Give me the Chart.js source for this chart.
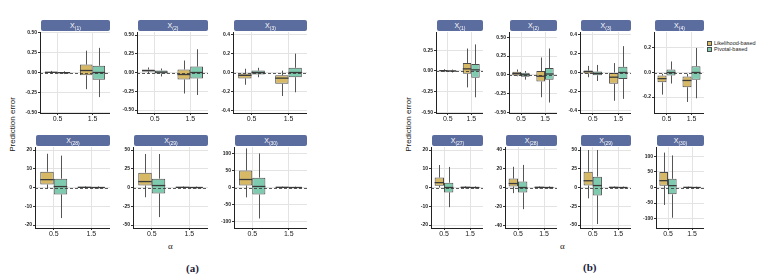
<!doctype html>
<html lang="en">
<head>
<meta charset="utf-8">
<title>Prediction error</title>
<script src="https://cdn.jsdelivr.net/npm/chart.js@4.4.1/dist/chart.umd.min.js"></script>
<style>
    body { margin: 0; width: 769px; height: 280px; background: #fff; position: relative; overflow: hidden; font-family: "Liberation Sans", Arial, sans-serif; }
    .facet { position: absolute; }
    .strip { position: absolute; height: 11px; background: #5b6c9e; color: #fff; border-radius: 2px; font-size: 7px; line-height: 11px; text-align: center; }
    .strip .sub { font-size: 5px; position: relative; top: 2px; }
    .ytitle { position: absolute; font-size: 8px; color: #222; transform: rotate(-90deg); white-space: nowrap; }
    .xtitle { position: absolute; font-family: "Liberation Serif", serif; font-size: 9px; color: #222; }
    .tag { position: absolute; font-family: "Liberation Serif", serif; font-weight: bold; font-size: 11px; color: #1b1b3a; }
    .legend { position: absolute; left: 707px; top: 40px; font-size: 5.5px; color: #222; line-height: 6px; }
    .legend span.key { display: inline-block; width: 3px; height: 3px; border: 1px solid #4d4d4d; margin-right: 2px; vertical-align: -1px; }
</style>
</head>
<body>

<div class="ytitle" style="left:-15px; top:120px;">Prediction error</div>
<div class="ytitle" style="left:381px; top:120px;">Prediction error</div>
<div class="xtitle" style="left:168px; top:241px;">α</div>
<div class="xtitle" style="left:560px; top:241px;">α</div>
<div class="tag" style="left:186px; top:262px;">(a)</div>
<div class="tag" style="left:583px; top:261px;">(b)</div>
<div class="legend">
    <div><span class="key" style="background:#d6b865"></span>Likelihood-based</div>
    <div><span class="key" style="background:#7fcbb0"></span>Pivotal-based</div>
</div>

<script type="text/javascript">
    var alphas = ["0.5", "1.5"];
    var seriesNames = ["Likelihood-based", "Pivotal-based"];

    // one row per alpha: [lower whisker, Q1, median, Q3, upper whisker]
    var a1_lik = [[-0.015, -0.005, 0.002, 0.008, 0.02], [-0.21, -0.035, 0.025, 0.1, 0.275]];
    var a1_piv = [[-0.02, -0.008, -0.002, 0.005, 0.015], [-0.31, -0.09, 0.0, 0.085, 0.31]];
    var a2_lik = [[-0.013, 0.013, 0.025, 0.04, 0.067], [-0.28, -0.093, -0.027, 0.04, 0.16]];
    var a2_piv = [[-0.053, -0.013, 0.005, 0.027, 0.053], [-0.3, -0.08, 0.0, 0.08, 0.31]];
    var a3_lik = [[-0.13, -0.063, -0.03, -0.01, 0.04], [-0.25, -0.12, -0.06, -0.03, 0.02]];
    var a3_piv = [[-0.05, -0.02, 0.0, 0.02, 0.05], [-0.21, -0.05, 0.0, 0.05, 0.2]];
    var a28_lik = [[-0.5, 1.6, 4.2, 8.4, 18], [-0.5, -0.2, 0.1, 0.4, 0.7]];
    var a28_piv = [[-16.3, -3.7, 0.5, 4.7, 17], [-0.6, -0.3, 0, 0.3, 0.6]];
    var a29_lik = [[-13, 2.6, 7.9, 19.7, 44.7], [-1, -0.5, 0.2, 0.9, 1.5]];
    var a29_piv = [[-39.5, -7.9, 2.6, 11.8, 44.7], [-1.2, -0.6, 0, 0.6, 1.2]];
    var a30_lik = [[-29, 5.9, 23.5, 50, 115], [-2, -1, 0.5, 2, 3]];
    var a30_piv = [[-91, -20.6, 3, 29, 100], [-2.5, -1.5, 0, 1.5, 2.5]];

    var b1_lik = [[-0.015, -0.005, 0.002, 0.008, 0.02], [-0.2, -0.036, 0.024, 0.095, 0.27]];
    var b1_piv = [[-0.02, -0.008, -0.002, 0.005, 0.015], [-0.32, -0.083, 0.012, 0.083, 0.32]];
    var b2_lik = [[-0.02, -0.01, 0.015, 0.04, 0.07], [-0.3, -0.09, -0.02, 0.05, 0.23]];
    var b2_piv = [[-0.065, -0.026, 0, 0.026, 0.05], [-0.37, -0.065, 0.01, 0.09, 0.35]];
    var b3_lik = [[-0.05, -0.01, 0.01, 0.02, 0.07], [-0.3, -0.12, -0.05, 0.0, 0.1]];
    var b3_piv = [[-0.09, -0.03, -0.01, 0.01, 0.08], [-0.28, -0.07, 0, 0.06, 0.28]];
    var b4_lik = [[-0.18, -0.08, -0.05, -0.024, -0.01], [-0.24, -0.12, -0.065, -0.033, -0.01]];
    var b4_piv = [[-0.09, -0.024, 0, 0.024, 0.09], [-0.21, -0.06, 0, 0.05, 0.2]];
    var b27_lik = [[0, 1.0, 2.6, 5.3, 12], [-0.5, -0.2, 0.1, 0.4, 0.7]];
    var b27_piv = [[-10.5, -2.6, 0, 2.6, 11], [-0.6, -0.3, 0, 0.3, 0.6]];
    var b28_lik = [[-6, 1, 4.2, 9.5, 22], [-1, -0.4, 0.2, 0.8, 1.3]];
    var b28_piv = [[-23, -5.3, 0, 6.3, 24], [-1.2, -0.6, 0, 0.6, 1.2]];
    var b29_lik = [[-14.5, 2.6, 9, 21, 50], [-1, -0.5, 0.2, 0.9, 1.5]];
    var b29_piv = [[-48.7, -10.5, 2.6, 14.5, 50], [-1.2, -0.6, 0, 0.6, 1.2]];
    var b30_lik = [[-56, 6, 22, 50, 112], [-2, -1, 0.5, 2, 3]];
    var b30_piv = [[-97, -22, 6, 28, 103], [-2.5, -1.5, 0, 1.5, 2.5]];

    // y tick labels and y limits of each facet
    var ticks050 = [-0.5, -0.25, 0, 0.25, 0.5];
    var ticks04 = [-0.4, -0.2, 0, 0.2, 0.4];
    var ticks020 = [-0.5, -0.25, 0, 0.25];
    var ticks02 = [-0.2, 0, 0.2];
    var ticks20 = [-20, -10, 0, 10, 20];
    var ticks40 = [-40, -20, 0, 20, 40];
    var ticks50 = [-50, -25, 0, 25, 50];
    var ticks100 = [-100, -50, 0, 50, 100];

    var gold = "#d6b865";
    var teal = "#7fcbb0";
    var YW = 26, XH = 14, PADT = 4;
    var rowTop = [32, 147], rowBottom = [113, 228];

    var facets = [
        { sub: "(1)", lik: a1_lik, piv: a1_piv, ticks: ticks050, lim: [-0.51, 0.51], dec: 2, axis: 40, right: 110, row: 0 },
        { sub: "(2)", lik: a2_lik, piv: a2_piv, ticks: ticks050, lim: [-0.54, 0.54], dec: 2, axis: 137, right: 208, row: 0 },
        { sub: "(3)", lik: a3_lik, piv: a3_piv, ticks: ticks04, lim: [-0.43, 0.43], dec: 1, axis: 233, right: 307, row: 0 },
        { sub: "(28)", lik: a28_lik, piv: a28_piv, ticks: ticks20, lim: [-21.6, 21.6], dec: 0, axis: 35, right: 110, row: 1 },
        { sub: "(29)", lik: a29_lik, piv: a29_piv, ticks: ticks50, lim: [-54, 54], dec: 0, axis: 133, right: 208, row: 1 },
        { sub: "(30)", lik: a30_lik, piv: a30_piv, ticks: ticks100, lim: [-119, 119], dec: 0, axis: 234, right: 307, row: 1 },
        { sub: "(1)", lik: b1_lik, piv: b1_piv, ticks: ticks020, lim: [-0.51, 0.47], dec: 2, axis: 436, right: 483, row: 0 },
        { sub: "(2)", lik: b2_lik, piv: b2_piv, ticks: ticks050, lim: [-0.51, 0.57], dec: 2, axis: 509, right: 557, row: 0 },
        { sub: "(3)", lik: b3_lik, piv: b3_piv, ticks: ticks04, lim: [-0.43, 0.43], dec: 1, axis: 580, right: 631, row: 0 },
        { sub: "(4)", lik: b4_lik, piv: b4_piv, ticks: ticks02, lim: [-0.33, 0.33], dec: 1, axis: 654, right: 704, row: 0 },
        { sub: "(27)", lik: b27_lik, piv: b27_piv, ticks: ticks20, lim: [-21.6, 21.6], dec: 0, axis: 431, right: 483, row: 1 },
        { sub: "(28)", lik: b28_lik, piv: b28_piv, ticks: ticks40, lim: [-43, 43], dec: 0, axis: 505, right: 557, row: 1 },
        { sub: "(29)", lik: b29_lik, piv: b29_piv, ticks: ticks50, lim: [-54, 54], dec: 0, axis: 580, right: 631, row: 1 },
        { sub: "(30)", lik: b30_lik, piv: b30_piv, ticks: ticks100, lim: [-130, 130], dec: 0, axis: 656, right: 704, row: 1 }
    ];

    // whiskers behind the boxes, medians and the dashed zero line on top
    var boxPlugin = {
        id: "boxes",
        beforeDatasetsDraw: function(chart) {
            var ctx = chart.ctx, y = chart.scales.y;
            ctx.save();
            ctx.strokeStyle = "#555";
            ctx.lineWidth = 1;
            chart.data.datasets.forEach(function(ds, i) {
                chart.getDatasetMeta(i).data.forEach(function(bar, j) {
                    var s = ds.stats[j];
                    var x = Math.round(bar.x) + 0.5;
                    ctx.beginPath();
                    ctx.moveTo(x, y.getPixelForValue(s[4]));
                    ctx.lineTo(x, y.getPixelForValue(s[3]));
                    ctx.moveTo(x, y.getPixelForValue(s[1]));
                    ctx.lineTo(x, y.getPixelForValue(s[0]));
                    ctx.stroke();
                });
            });
            ctx.restore();
        },
        afterDatasetsDraw: function(chart) {
            var ctx = chart.ctx, y = chart.scales.y, area = chart.chartArea;
            ctx.save();
            ctx.strokeStyle = "#3a3a3a";
            ctx.lineWidth = 1.3;
            chart.data.datasets.forEach(function(ds, i) {
                chart.getDatasetMeta(i).data.forEach(function(bar, j) {
                    var py = y.getPixelForValue(ds.stats[j][2]);
                    ctx.beginPath();
                    ctx.moveTo(bar.x - bar.width / 2, py);
                    ctx.lineTo(bar.x + bar.width / 2, py);
                    ctx.stroke();
                });
            });
            var zy = Math.round(y.getPixelForValue(0)) + 0.5;
            ctx.strokeStyle = "#333";
            ctx.lineWidth = 0.8;
            ctx.setLineDash([3, 2]);
            ctx.beginPath();
            ctx.moveTo(area.left, zy);
            ctx.lineTo(area.right, zy);
            ctx.stroke();
            ctx.restore();
        }
    };

    function makeFacet(f) {
        var top = rowTop[f.row], bottom = rowBottom[f.row];
        var w = YW + f.right - f.axis;
        var h = PADT + bottom - top + XH;

        var div = document.createElement("div");
        div.className = "facet";
        div.style.left = (f.axis - YW) + "px";
        div.style.top = (top - PADT) + "px";
        var canvas = document.createElement("canvas");
        canvas.width = w;
        canvas.height = h;
        canvas.style.width = w + "px";
        canvas.style.height = h + "px";
        div.appendChild(canvas);
        document.body.appendChild(div);

        var strip = document.createElement("div");
        strip.className = "strip";
        strip.style.left = (f.axis + 1) + "px";
        strip.style.width = (f.right - f.axis - 1) + "px";
        strip.style.top = (top - 12) + "px";
        strip.innerHTML = "X<span class='sub'>" + f.sub + "</span>";
        document.body.appendChild(strip);

        new Chart(canvas.getContext("2d"), {
            type: "bar",
            data: {
                labels: alphas,
                datasets: [{
                    label: seriesNames[0],
                    data: f.lik.map(function(s) { return [s[1], s[3]]; }),
                    stats: f.lik,
                    backgroundColor: gold
                }, {
                    label: seriesNames[1],
                    data: f.piv.map(function(s) { return [s[1], s[3]]; }),
                    stats: f.piv,
                    backgroundColor: teal
                }]
            },
            options: {
                responsive: false,
                animation: false,
                devicePixelRatio: 1,
                events: [],
                layout: { padding: { top: PADT, left: 0, right: 0, bottom: 0 } },
                datasets: { bar: { categoryPercentage: 0.72, barPercentage: 1, borderColor: "#4d4d4d", borderWidth: 1, borderSkipped: false } },
                plugins: { legend: { display: false }, tooltip: { enabled: false } },
                scales: {
                    x: {
                        grid: { offset: false, color: "#e3e3e3", tickLength: 2, tickColor: "#333" },
                        border: { color: "#222", width: 1 },
                        ticks: { color: "#222", font: { size: 7, family: "Liberation Sans" }, padding: 0, maxRotation: 0 },
                        afterFit: function(s) { s.height = XH; }
                    },
                    y: {
                        min: f.lim[0],
                        max: f.lim[1],
                        grid: { color: "#e3e3e3", tickLength: 2, tickColor: "#333" },
                        border: { color: "#222", width: 1 },
                        ticks: {
                            color: "#222",
                            font: { size: 5, family: "Liberation Sans", weight: "bold" },
                            padding: 1,
                            callback: function(v) { return Number(v).toFixed(f.dec); }
                        },
                        afterBuildTicks: function(s) { s.ticks = f.ticks.map(function(v) { return { value: v }; }); },
                        afterFit: function(s) { s.width = YW; }
                    }
                }
            },
            plugins: [boxPlugin]
        });
    }

    facets.forEach(makeFacet);
</script>
</body>
</html>
